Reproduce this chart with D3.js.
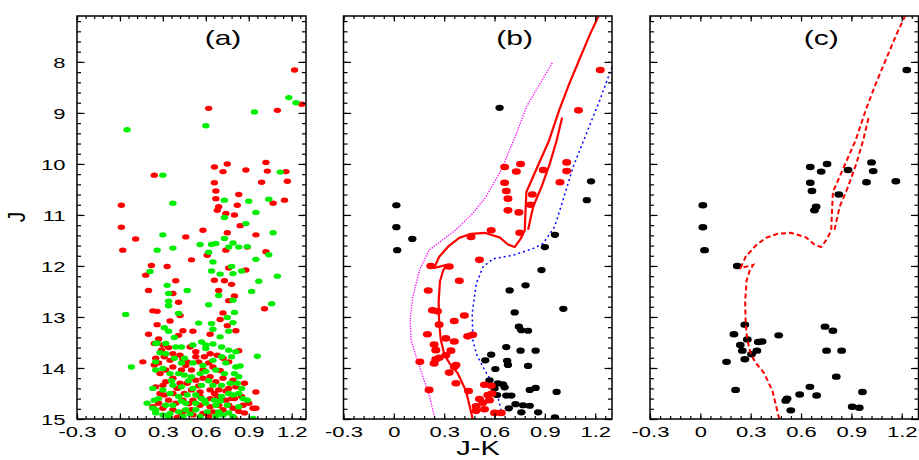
<!DOCTYPE html>
<html><head><meta charset="utf-8">
<script src="https://cdn.jsdelivr.net/npm/d3@7"></script>
<style>body{margin:0;background:#fff}svg{display:block}</style>
</head><body>
<svg id="chart" width="919" height="460"></svg>
<script>
// ---------- data ----------
const xMajor = [-0.3, 0, 0.3, 0.6, 0.9, 1.2];
const yMajor = [8, 9, 10, 11, 12, 13, 14, 15];
const panelLabels = ["(a)", "(b)", "(c)"];
const xTitle = "J-K";
const yTitle = "J";

// panel (a): all stars, two colours  [J-K, J]
const aRed = [
[1.22,8.16],[0.62,8.91],[1.10,8.95],[1.27,8.83],[0.24,10.22],[0.66,10.06],[0.75,10.0],[0.72,10.15],[0.88,10.12],[1.02,9.97],
[1.03,10.14],[0.99,10.36],[1.16,10.15],[1.17,10.34],[1.15,10.71],[0.66,10.37],[0.67,10.53],[0.67,10.68],[0.69,10.84],[0.68,10.91],
[0.74,10.97],[0.80,11.0],[0.83,10.6],[0.82,10.81],[1.07,10.77],[0.01,10.81],[0.01,11.24],[0.84,11.21],[0.58,11.3],
[0.11,11.47],[0.46,11.43],[0.75,11.35],[0.95,11.39],[0.02,11.69],[0.61,11.79],[0.50,11.88],[0.74,11.69],[0.89,11.63],[1.02,11.72],
[0.22,11.99],[0.33,12.01],[0.18,12.18],[0.76,12.04],[0.88,12.08],[0.66,12.28],[0.39,12.29],[0.73,12.29],[0.78,12.36],[0.20,12.48],
[0.37,12.54],[0.69,12.48],[0.41,12.71],[0.80,12.59],[0.76,12.68],[0.23,12.88],[0.26,12.89],[0.42,12.97],[0.72,12.92],[1.01,12.84],
[0.35,13.08],[0.26,13.15],[0.70,13.05],[0.75,13.17],[0.81,13.27],[0.44,13.27],[0.51,13.28],[0.20,13.34],[0.27,13.43],[0.41,13.36],
[0.63,13.34],[0.83,13.66],[0.16,13.88],[0.24,13.52],[0.49,13.59],[0.95,14.47],
[0.30,13.55],[0.34,13.6],[0.29,13.65],[0.37,13.72],[0.31,13.78],[0.25,13.81],[0.27,13.9],[0.24,13.94],[0.42,13.75],[0.44,13.83],
[0.47,13.88],[0.53,13.78],[0.55,13.88],[0.59,13.78],[0.63,13.72],[0.68,13.75],[0.72,13.81],[0.76,13.88],[0.65,13.98],[0.58,14.04],
[0.50,14.04],[0.43,14.04],[0.37,13.98],[0.32,14.04],[0.28,14.11],[0.32,14.27],[0.25,14.37],[0.30,14.34],[0.37,14.2],[0.42,14.3],
[0.47,14.3],[0.53,14.24],[0.58,14.2],[0.63,14.17],[0.67,14.27],[0.72,14.2],[0.79,14.24],[0.81,14.37],[0.87,14.3],[0.76,14.4],
[0.69,14.43],[0.63,14.43],[0.56,14.47],[0.50,14.43],[0.45,14.5],[0.37,14.5],[0.31,14.53],[0.27,14.69],[0.34,14.63],[0.39,14.69],
[0.44,14.63],[0.51,14.63],[0.56,14.56],[0.63,14.6],[0.68,14.56],[0.74,14.63],[0.80,14.6],[0.85,14.56],[0.76,14.73],[0.69,14.73],
[0.63,14.76],[0.56,14.73],[0.50,14.82],[0.44,14.86],[0.37,14.82],[0.43,14.92],[0.51,14.92],[0.58,14.89],[0.65,14.86],[0.72,14.82],
[0.79,14.79],[0.86,14.73],[0.90,14.69],[0.93,14.79],[0.95,14.79],[0.80,14.99],[0.87,14.88],[0.30,14.79],[0.23,14.76],
[0.35,13.85],[0.46,13.95],[0.62,13.9],[0.70,14.05],[0.40,14.4],[0.55,14.35],[0.66,14.5],[0.48,14.7],[0.62,14.95],[0.28,14.5],
[0.74,14.45],[0.83,14.85],[0.40,14.97],[0.53,13.68],[0.78,14.6]
];
const aGreen = [
[0.05,9.33],[0.60,9.25],[0.94,8.98],[1.18,8.7],[1.23,8.8],[0.30,10.22],[0.37,10.77],[0.73,10.71],[0.90,10.73],[1.04,10.69],
[1.12,10.16],[0.95,10.95],[0.73,11.05],[0.88,11.17],
[0.30,11.39],[1.07,11.35],[0.56,11.58],[0.64,11.58],[0.67,11.56],[0.37,11.65],[0.26,11.69],[0.62,11.73],[0.73,11.46],[0.76,11.63],
[0.79,11.55],[0.83,11.63],[0.89,11.62],[1.04,11.78],[0.65,11.92],[0.95,11.87],[0.21,12.11],[0.64,12.1],[0.78,12.01],[0.79,12.15],
[0.85,12.1],[0.70,12.16],[1.10,12.2],[0.97,12.3],[0.33,12.38],[0.47,12.48],[0.92,12.5],[0.34,12.54],[0.69,12.58],[0.34,12.69],
[0.79,12.67],[0.34,12.78],[1.06,12.74],[0.62,12.76],[0.04,12.95],[0.41,12.93],[0.80,12.91],[0.75,13.01],[0.79,13.11],[0.55,13.12],
[0.64,13.13],[0.31,13.21],[0.34,13.28],[0.65,13.24],[0.76,13.28],[0.26,13.51],[0.38,13.4],[0.57,13.49],[0.70,13.39],[0.65,13.53],
[0.96,13.77],[0.08,13.98],[0.84,13.96],[0.25,13.88],
[0.25,13.52],[0.32,13.52],[0.39,13.59],[0.43,13.59],[0.51,13.55],[0.60,13.55],[0.71,13.59],[0.76,13.65],[0.81,13.68],[0.32,13.72],
[0.38,13.81],[0.45,13.81],[0.51,13.9],[0.60,13.62],[0.65,13.85],[0.71,13.78],[0.78,13.78],[0.81,13.98],[0.25,14.04],[0.30,14.01],
[0.35,14.11],[0.41,14.11],[0.45,14.14],[0.50,14.17],[0.56,14.11],[0.60,14.07],[0.67,14.04],[0.73,14.11],[0.80,14.11],[0.83,14.17],
[0.82,14.3],[0.37,14.34],[0.43,14.37],[0.51,14.4],[0.57,14.34],[0.65,14.34],[0.71,14.34],[0.76,14.5],[0.83,14.5],[0.23,14.4],
[0.30,14.43],[0.35,14.5],[0.41,14.56],[0.47,14.53],[0.53,14.53],[0.59,14.63],[0.66,14.63],[0.71,14.56],[0.79,14.53],[0.86,14.6],
[0.89,14.63],[0.19,14.69],[0.24,14.63],[0.32,14.73],[0.37,14.73],[0.46,14.69],[0.53,14.69],[0.60,14.69],[0.67,14.73],[0.75,14.73],
[0.83,14.76],[0.23,14.79],[0.25,14.82],[0.35,14.89],[0.41,14.86],[0.46,14.82],[0.53,14.82],[0.61,14.86],[0.69,14.86],[0.76,14.88],
[0.25,14.88],[0.34,14.95],[0.44,14.95],[0.56,14.95],[0.67,14.94],[0.79,14.95],[0.93,14.99],
[0.28,13.7],[0.43,13.9],[0.58,13.95],[0.74,13.9],[0.36,14.25],[0.48,14.25],[0.62,14.25],[0.77,14.3],[0.27,14.6],[0.43,14.65],
[0.57,14.6],[0.70,14.65],[0.30,14.92],[0.49,14.9],[0.72,14.92],[0.85,14.4]
];

// panel (b): members (red) and field (black)
const bMembers = [
[1.23,8.16],[1.10,8.95],[0.66,10.06],[0.755,10.0],[0.73,10.15],[0.89,10.12],[1.03,9.97],[1.03,10.14],[0.99,10.36],[0.66,10.37],
[0.67,10.53],[0.68,10.68],[0.825,10.6],[0.815,10.8],[0.68,10.91],[0.745,10.95],[0.58,11.3],[0.75,11.35],[0.46,11.43],[0.51,11.88],
[0.22,12.0],[0.33,12.01],[0.39,12.29],[0.205,12.48],[0.23,12.87],[0.26,12.89],[0.42,12.97],[0.27,13.15],[0.36,13.08],[0.20,13.34],
[0.31,13.42],[0.36,13.48],[0.44,13.38],[0.47,13.35],[0.24,13.54],[0.25,13.65],[0.34,13.66],[0.31,13.75],[0.27,13.8],[0.25,13.83],
[0.24,13.91],[0.155,13.88],[0.37,13.94],[0.36,13.98],[0.33,14.09],[0.37,14.3],[0.21,14.43],[0.445,14.45],[0.54,14.33],[0.58,14.35],
[0.585,14.5],[0.56,14.53],[0.51,14.61],[0.53,14.68],[0.57,14.63],[0.49,14.75],[0.54,14.81],[0.49,14.84],[0.60,14.88],[0.64,14.88]
];
const bField = [
[0.63,8.9],[1.175,10.34],[1.15,10.71],[0.015,10.81],[0.015,11.24],[0.11,11.47],[0.96,11.39],[0.90,11.63],[0.02,11.69],[0.88,12.08],
[0.785,12.38],[0.69,12.48],[1.01,12.84],[0.72,12.91],[0.745,13.19],[0.76,13.26],[0.80,13.27],[0.67,13.59],[0.755,13.66],[0.845,13.66],
[0.58,13.74],[0.545,13.85],[0.675,13.86],[0.68,13.94],[0.80,13.96],[0.605,14.02],[0.57,14.24],[0.62,14.3],[0.65,14.32],[0.66,14.38],
[0.60,14.4],[0.615,14.53],[0.67,14.54],[0.70,14.54],[0.81,14.43],[0.845,14.39],[0.97,14.47],[0.725,14.71],[0.77,14.73],[0.81,14.74],
[0.685,14.79],[0.76,14.87],[0.86,14.87],[0.96,14.97]
];

// panel (c): stars
const cStars = [
[1.23,8.16],[0.655,10.06],[0.755,10.0],[0.72,10.15],[0.88,10.12],[1.02,9.97],[1.03,10.14],[0.99,10.36],[1.165,10.34],[0.655,10.37],
[0.665,10.53],[0.69,10.84],[0.68,10.91],[0.825,10.6],[0.015,10.81],[0.015,11.24],[0.025,11.69],[0.22,12.0],[0.265,13.15],[0.20,13.34],
[0.28,13.44],[0.345,13.49],[0.368,13.48],[0.467,13.36],[0.238,13.55],[0.25,13.66],[0.337,13.66],[0.305,13.73],[0.265,13.83],[0.156,13.88],
[0.743,13.19],[0.79,13.27],[0.752,13.66],[0.842,13.66],[0.81,14.17],[0.21,14.43],[0.653,14.37],[0.592,14.52],[0.693,14.54],[0.517,14.6],
[0.509,14.64],[0.539,14.83],[0.966,14.47],[0.905,14.76],[0.947,14.78]
];

// isochrone (main sequence -> turnoff hook -> subgiant -> giant branch) and second branch
const isoMain = [
[0.47,15.0],[0.43,14.45],[0.38,14.1],[0.33,13.9],[0.30,13.72],[0.28,13.45],[0.27,13.13],[0.267,12.7],[0.275,12.3],[0.295,12.08],
[0.315,11.98],[0.24,12.04],[0.27,11.82],[0.33,11.6],[0.39,11.45],[0.46,11.37],[0.54,11.35],[0.63,11.44],[0.68,11.58],[0.72,11.63],
[0.755,11.47],[0.78,11.3],[0.785,10.9],[0.79,10.55],[0.85,10.1],[0.925,9.54],[0.985,8.95],[1.045,8.43],[1.115,7.88],[1.17,7.45],
[1.22,7.1],[1.245,6.9]
];
const isoBranch = [[0.80,11.29],[0.83,10.84],[0.88,10.45],[0.93,9.99],[0.97,9.54],[1.003,9.09]];
// left (magenta) and right (blue) dotted envelopes in panel (b)
const magentaLine = [
[0.944,8.02],[0.79,8.88],[0.73,9.41],[0.64,10.12],[0.55,10.64],[0.47,10.97],[0.37,11.29],[0.21,11.69],[0.153,12.08],[0.113,12.61],
[0.097,13.06],[0.103,13.45],[0.133,13.78],[0.173,14.17],[0.213,14.56],[0.245,15.0]
];
const blueLine = [
[1.30,8.1],[1.227,8.75],[1.147,9.41],[1.068,10.06],[1.008,10.71],[0.958,11.23],[0.938,11.33],[0.889,11.56],[0.829,11.66],[0.71,11.79],
[0.59,11.86],[0.531,12.02],[0.491,12.35],[0.467,12.93],[0.471,13.45],[0.491,13.72],[0.541,14.04],[0.59,14.3],[0.62,14.56],[0.65,15.0]
];

// ---------- drawing ----------
const FONT = "'Liberation Sans', Arial, Helvetica, sans-serif";
const yTop = 16, yBot = 419;
const panels = [{x0:77, x1:306}, {x0:343.5, x1:612}, {x0:650, x1:918.5}];
const svg = d3.select("#chart");
const y = d3.scaleLinear().domain([7.1, 15]).range([yTop, yBot]);
const xMinor = d3.range(0, 27).map(i => +(-0.3 + i*0.06).toFixed(2));
const yMinor = d3.range(0, 40).map(i => +(7.2 + i*0.2).toFixed(1));
const fmtX = d => d === 0 ? "0" : d.toFixed(1);

panels.forEach((p, i) => {
  const x = d3.scaleLinear().domain([-0.3, 1.3]).range([p.x0, p.x1]);
  p.x = x;
  svg.append("clipPath").attr("id", "clip" + i).append("rect")
    .attr("x", p.x0).attr("y", yTop).attr("width", p.x1 - p.x0).attr("height", yBot - yTop);
  p.g = svg.append("g").attr("clip-path", `url(#clip${i})`);

  const mk = (axis, tr, vals, size, labels) => {
    const ax = axis.tickValues(vals).tickSize(size).tickFormat(labels ? fmtX : "");
    const g = svg.append("g").attr("transform", tr).call(ax);
    g.select(".domain").remove();
    g.selectAll("line").attr("stroke", "#000").attr("stroke-width", 1.2);
    return g;
  };
  mk(d3.axisTop(x), `translate(0,${yTop})`, xMinor, -3, false);
  mk(d3.axisTop(x), `translate(0,${yTop})`, xMajor, -5.5, false);
  mk(d3.axisBottom(x), `translate(0,${yBot})`, xMinor, -3, false);
  const gb = mk(d3.axisBottom(x), `translate(0,${yBot})`, xMajor, -5.5, true);
  gb.selectAll("text").attr("y", 7.5).attr("dy", "0.71em")
    .attr("font-family", FONT).attr("font-size", 15.5).attr("fill", "#000")
    .attr("transform", "scale(1.42,1)");
  const yAxL = (vals, size) => {
    const g = svg.append("g").attr("transform", `translate(${p.x0},0)`)
      .call(d3.axisLeft(y).tickValues(vals).tickSize(size).tickFormat(""));
    g.select(".domain").remove();
    g.selectAll("line").attr("stroke", "#000").attr("stroke-width", 1.2);
  };
  yAxL(yMinor, -4); yAxL(yMajor, -7.5);
  const yAxR = (vals, size) => {
    const g = svg.append("g").attr("transform", `translate(${p.x1},0)`)
      .call(d3.axisRight(y).tickValues(vals).tickSize(size).tickFormat(""));
    g.select(".domain").remove();
    g.selectAll("line").attr("stroke", "#000").attr("stroke-width", 1.2);
  };
  yAxR(yMinor, -4); yAxR(yMajor, -7.5);

  if (i === 0) {
    const gl = svg.append("g").attr("transform", `translate(${p.x0},0)`)
      .call(d3.axisLeft(y).tickValues(yMajor).tickSize(0).tickFormat(d3.format("d")));
    gl.select(".domain").remove();
    gl.selectAll("text").attr("x", 0).attr("dy", "0.35em")
      .attr("font-family", FONT).attr("font-size", 15.5).attr("fill", "#000")
      .attr("text-anchor", "end").attr("transform", "translate(-11.5,0) scale(1.42,1)");
  }

  svg.append("text").attr("x", 0).attr("y", 0)
    .attr("transform", `translate(${x(0.72)},45) scale(1.5,1)`)
    .attr("text-anchor", "middle").attr("font-family", FONT).attr("font-size", 20)
    .text(panelLabels[i]);
});

const line = (p) => d3.line().x(d => p.x(d[0])).y(d => y(d[1]));
const dots = (p, data, color, rx, ry) => {
  p.g.append("g").selectAll("ellipse").data(data).join("ellipse")
    .attr("cx", d => p.x(d[0])).attr("cy", d => y(d[1]))
    .attr("rx", rx).attr("ry", ry).attr("fill", color);
};

const pa = panels[0];
dots(pa, aRed, "#ff0000", 3.7, 2.7);
dots(pa, aGreen, "#00ee00", 3.7, 2.7);

const pb = panels[1];
pb.g.append("path").attr("d", line(pb)(magentaLine)).attr("fill", "none")
  .attr("stroke", "#ff00ff").attr("stroke-width", 1.3).attr("stroke-dasharray", "1.3,1.3");
pb.g.append("path").attr("d", line(pb)(blueLine)).attr("fill", "none")
  .attr("stroke", "#0000ff").attr("stroke-width", 1.5).attr("stroke-dasharray", "2,3");
dots(pb, bField, "#000", 4.2, 3.1);
dots(pb, bMembers, "#ff0000", 4.5, 3.3);
[isoMain, isoBranch].forEach(dd => pb.g.append("path").attr("d", line(pb)(dd)).attr("fill", "none")
  .attr("stroke", "#ff0000").attr("stroke-width", 2.2).attr("stroke-linejoin", "round"));

const pc = panels[2];
dots(pc, cStars, "#000", 4.4, 3.2);
[isoMain, isoBranch].forEach(dd => pc.g.append("path").attr("d", line(pc)(dd)).attr("fill", "none")
  .attr("stroke", "#ff0000").attr("stroke-width", 2).attr("stroke-dasharray", "5,3"));

panels.forEach(p => svg.append("rect").attr("x", p.x0).attr("y", yTop)
  .attr("width", p.x1 - p.x0).attr("height", yBot - yTop)
  .attr("fill", "none").attr("stroke", "#000").attr("stroke-width", 1.5));

svg.append("text").attr("x", 0).attr("y", 0)
  .attr("transform", `translate(478,455) scale(1.42,1)`)
  .attr("text-anchor", "middle").attr("font-family", FONT).attr("font-size", 20.5).text(xTitle);
svg.append("text").attr("x", 0).attr("y", 0)
  .attr("transform", `translate(25,217) scale(1.15,1) rotate(-90)`)
  .attr("text-anchor", "middle").attr("font-family", FONT).attr("font-size", 21).text(yTitle);
</script>
</body></html>
